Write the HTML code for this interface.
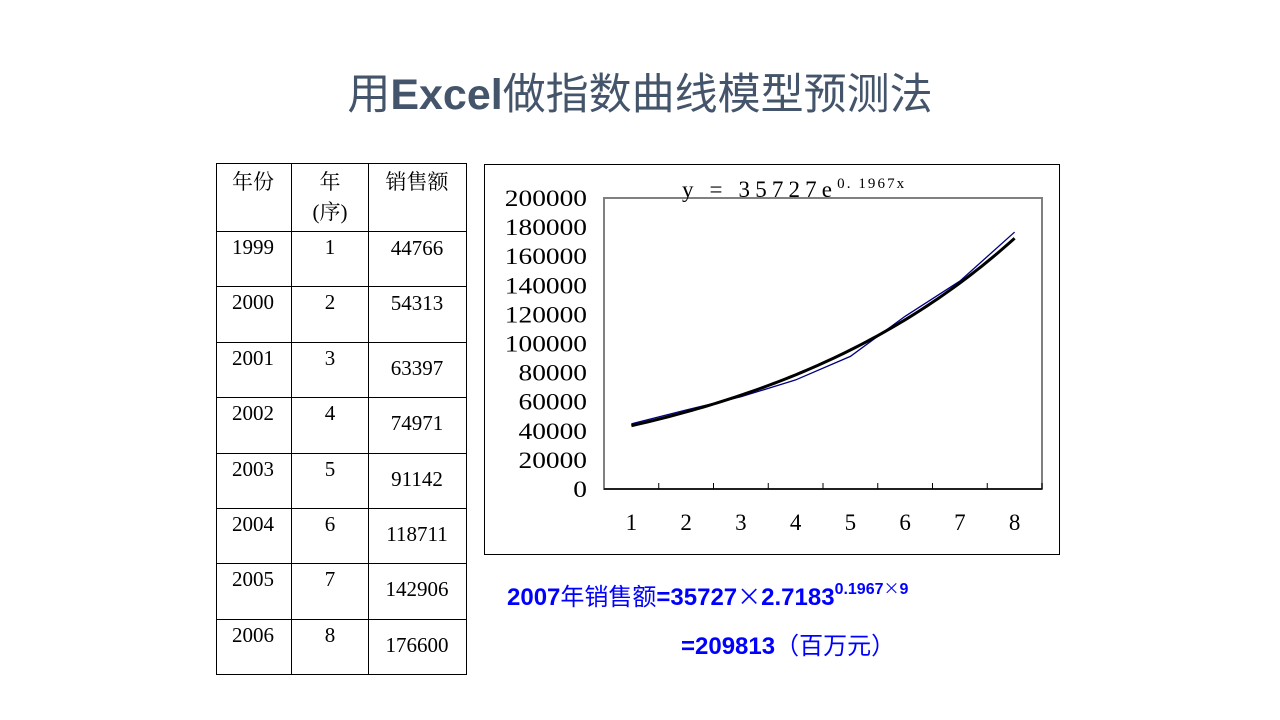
<!DOCTYPE html>
<html><head><meta charset="utf-8"><style>
body{margin:0;width:1280px;height:720px;background:#fff;position:relative;overflow:hidden;font-family:"Liberation Serif","Noto Serif CJK SC",serif}
.t{position:absolute;white-space:nowrap}
.title{left:0;width:1280px;text-align:center;top:60px;font-family:"Liberation Sans","Noto Sans CJK SC",sans-serif;font-size:43px;color:#44546a}
.cell{position:absolute;font-size:21px;color:#000;text-align:center}
.formula{font-family:"Liberation Sans","Noto Sans CJK SC",sans-serif;font-weight:bold;color:#0000ff;font-size:24px}
.x{font-family:"Noto Sans CJK SC",sans-serif;font-weight:normal}
</style></head><body>
<div class="t title">用<b>Excel</b>做指数曲线模型预测法</div>

<svg width="1280" height="720" style="position:absolute;left:0;top:0">
<g stroke="#000" stroke-width="1" fill="none">
<rect x="216.5" y="163.5" width="250" height="511"/>
<line x1="291.5" y1="163" x2="291.5" y2="675"/>
<line x1="368.5" y1="163" x2="368.5" y2="675"/>
<line x1="216" y1="231.5" x2="467" y2="231.5"/>
<line x1="216" y1="286.5" x2="467" y2="286.5"/>
<line x1="216" y1="342.5" x2="467" y2="342.5"/>
<line x1="216" y1="397.5" x2="467" y2="397.5"/>
<line x1="216" y1="453.5" x2="467" y2="453.5"/>
<line x1="216" y1="508.5" x2="467" y2="508.5"/>
<line x1="216" y1="563.5" x2="467" y2="563.5"/>
<line x1="216" y1="619.5" x2="467" y2="619.5"/>
</g></svg>
<div id="tbl"></div>

<svg id="chart" width="1280" height="720" style="position:absolute;left:0;top:0"></svg>

<div class="t formula" style="left:507px;top:577px">2007<span style="font-weight:normal">年销售额</span>=35727<span class="x">×</span>2.7183<sup style="font-size:16px;position:relative;top:-2px">0.1967<span class="x">×</span>9</sup></div>
<div class="t formula" style="left:681px;top:626px">=209813<span style="font-weight:normal">（百万元）</span></div>

<script>
const years=["1999","2000","2001","2002","2003","2004","2005","2006"];
const seqs=["1","2","3","4","5","6","7","8"];
const sales=[44766,54313,63397,74971,91142,118711,142906,176600];
const yTicks=[0,20000,40000,60000,80000,100000,120000,140000,160000,180000,200000];
const fitA=35727;
const fitB=0.1967;

const tbl=document.getElementById('tbl');
function cell(txt,cx,top,name){
  const d=document.createElement('div');
  d.className='cell';d.style.left=(cx-60)+'px';d.style.width='120px';d.style.top=top+'px';
  d.innerHTML=txt;
  
  
  tbl.appendChild(d);
}
cell('年份',253,166,'header-year');
cell('年<br>(序)',330,166,'header-seq');
cell('销售额',417,166,'header-sales');
const rowTop=[231,286,342,397,453,508,563,619];
const offs=[0,0,10,10,10,10,10,10];
years.forEach((y,i)=>{
  cell(y,253,rowTop[i]+4,'year-cell');
  cell(seqs[i],330,rowTop[i]+4,'seq-cell');
  cell(sales[i],417,rowTop[i]+4+offs[i]+(i<2?1:0),'sales-cell');
});

const svg=document.getElementById('chart');
const NS='http://www.w3.org/2000/svg';
const L=604,R=1042,T=198,B=489,ymax=200000;
const n=sales.length, step=(R-L)/n;
const xs=i=>L+step*(i+0.5);
const xv=v=>L+step*(v-0.5);
const ys=v=>B-(v/ymax)*(B-T);
function el(tag,attrs,text){
  const e=document.createElementNS(NS,tag);
  for(const k in attrs)e.setAttribute(k,attrs[k]);
  if(text!==undefined)e.textContent=text;
  svg.appendChild(e);return e;
}
let e=el('rect',{x:484.5,y:164.5,width:575,height:390,fill:'#fff',stroke:'#000','stroke-width':1});


e=el('rect',{x:L,y:T,width:R-L,height:B-T,fill:'none',stroke:'#808080','stroke-width':2});


e=el('line',{x1:L,y1:B,x2:R,y2:B,stroke:'#000','stroke-width':1.5});


for(let i=1;i<=n;i++){
  const x=L+step*i;
  e=el('line',{x1:x,y1:B,x2:x,y2:B-6,stroke:'#000','stroke-width':1});
  
  
}
seqs.forEach((s,i)=>{
  e=el('text',{x:xs(i),y:530,'text-anchor':'middle','font-size':23,'font-family':'Liberation Serif, serif'},s);
  
  
});
yTicks.forEach(v=>{
  const s=String(v);
  const w=s.length*13.7;
  e=el('text',{x:587-w,y:ys(v)+8,'font-size':23,'font-family':'Liberation Serif, serif',textLength:w,lengthAdjust:'spacingAndGlyphs'},s);
  
  
});
e=el('polyline',{points:sales.map((v,i)=>xs(i)+','+ys(v)).join(' '),fill:'none',stroke:'#000080','stroke-width':1.3});


const pts=[];
for(let k=0;k<=70;k++){const v=1+k*(n-1)/70;pts.push(xv(v)+','+ys(fitA*Math.exp(fitB*v)));}
e=el('polyline',{points:pts.join(' '),fill:'none',stroke:'#000','stroke-width':3});


e=el('text',{x:682,y:197,'font-size':23,'font-family':'Liberation Serif, serif'});
e.innerHTML='<tspan textLength="150" lengthAdjust="spacing">y  =  35727e</tspan><tspan dy="-9" font-size="15" textLength="67" lengthAdjust="spacing">0. 1967x</tspan>';


</script>
</body></html>
